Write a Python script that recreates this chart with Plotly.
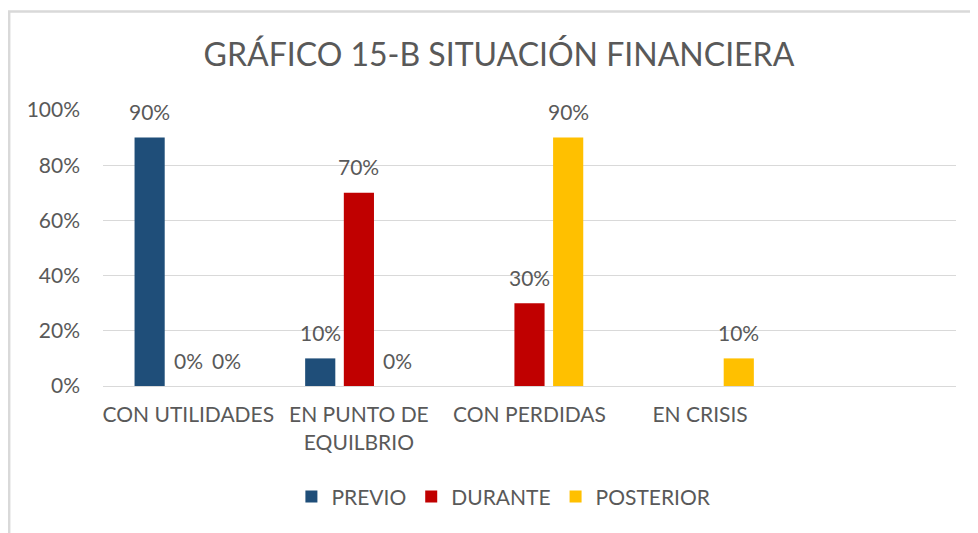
import plotly.graph_objects as go

categories = ["CON UTILIDADES", "EN PUNTO DE<br>EQUILBRIO", "CON PERDIDAS", "EN CRISIS"]
previo = [0.9, 0.1, None, None]
durante = [0.0, 0.7, 0.3, None]
posterior = [0.0, 0.0, 0.9, 0.1]
series_names = ["PREVIO", "DURANTE", "POSTERIOR"]
series_colors = ["#1F4E79", "#C00000", "#FFC000"]
y_ticks = [0, 0.2, 0.4, 0.6, 0.8, 1.0]
y_tick_labels = ["0%", "20%", "40%", "60%", "80%", "100%"]

FONT = "Lato, Carlito, sans-serif"
GRAY = "#595959"
FS = 21
BARGAP = 0.32
BARGROUPGAP = 0.22

all_series = [previo, durante, posterior]
fig = go.Figure()
for name, vals, col in zip(series_names, all_series, series_colors):
    fig.add_trace(go.Bar(
        name=name, x=categories, y=vals,
        marker=dict(color=col, line=dict(width=0)),
        hoverinfo="skip",
    ))

# data labels placed above each bar (Excel-like spacing)
slot = (1 - BARGAP) / len(all_series)
annotations = []
for k, vals in enumerate(all_series):
    for i, v in enumerate(vals):
        if v is None:
            continue
        annotations.append(dict(
            x=i + (k - (len(all_series) - 1) / 2) * slot, y=v, xref="x", yref="y",
            text=f"{round(v * 100)}%", showarrow=False,
            yanchor="middle", xanchor="center", yshift=26,
            font=dict(family=FONT, size=FS, color=GRAY),
        ))

fig.update_layout(
    width=978, height=533,
    margin=dict(l=95, r=30, t=102, b=155),
    paper_bgcolor="white", plot_bgcolor="white",
    barmode="group", bargap=BARGAP, bargroupgap=BARGROUPGAP,
    title=dict(text="GRÁFICO 15-B SITUACIÓN FINANCIERA", x=0.502, xref="container",
               xanchor="center", y=0.912, yref="container", yanchor="middle",
               font=dict(family=FONT, size=32, color=GRAY)),
    font=dict(family=FONT, size=FS, color=GRAY),
    showlegend=True,
    legend=dict(orientation="h", x=0.47, xanchor="center", y=-0.402, yanchor="middle",
                font=dict(family=FONT, size=FS, color=GRAY), itemwidth=30,
                traceorder="normal"),
    xaxis=dict(type="category", range=[-0.5, 4.5], showgrid=False, ticks="",
               showline=True, linecolor="#D9D9D9", linewidth=1,
               ticklabelstandoff=10,
               tickfont=dict(family=FONT, size=FS, color=GRAY)),
    yaxis=dict(range=[0, 1.0], tickvals=y_ticks, ticktext=y_tick_labels,
               showgrid=True, gridcolor="#D9D9D9", gridwidth=1,
               zeroline=False, showline=False, ticks="",
               ticklabelstandoff=22,
               tickfont=dict(family=FONT, size=FS, color=GRAY)),
    annotations=annotations,
    shapes=[dict(type="rect", xref="paper", yref="paper",
                 x0=-0.110, x1=1.2, y0=-0.7, y1=1.357,
                 line=dict(color="#D9D9D9", width=2.5), fillcolor="rgba(0,0,0,0)",
                 layer="below")],
)

fig.write_html("out.html")
